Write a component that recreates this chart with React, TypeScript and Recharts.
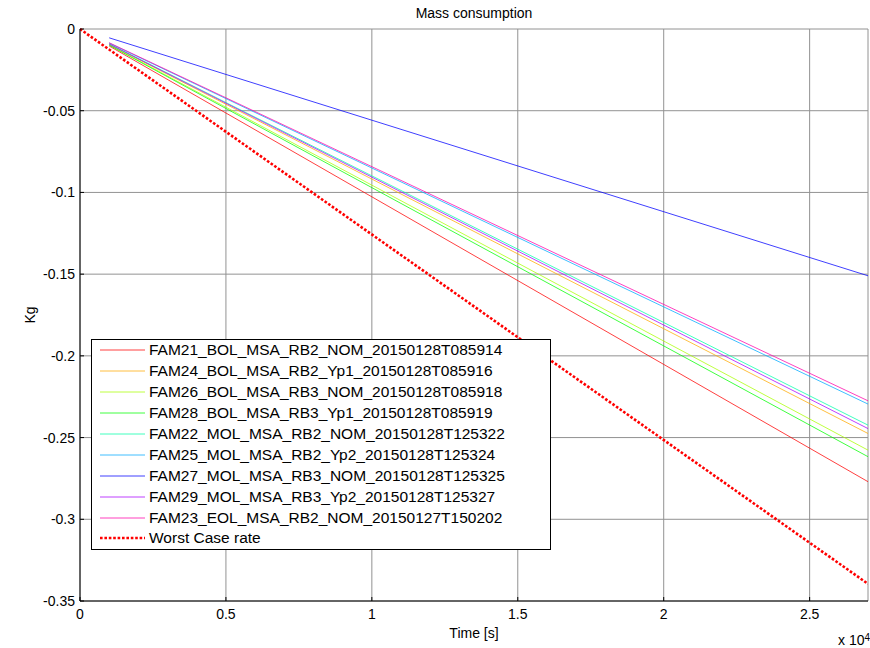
import { LineChart, Line, XAxis, YAxis, CartesianGrid, Legend } from 'recharts'

const font = 'Arial, "Liberation Sans", Helvetica, sans-serif'

// run names, in legend order
const runNames = [
  'FAM21_BOL_MSA_RB2_NOM_20150128T085914',
  'FAM24_BOL_MSA_RB2_Yp1_20150128T085916',
  'FAM26_BOL_MSA_RB3_NOM_20150128T085918',
  'FAM28_BOL_MSA_RB3_Yp1_20150128T085919',
  'FAM22_MOL_MSA_RB2_NOM_20150128T125322',
  'FAM25_MOL_MSA_RB2_Yp2_20150128T125324',
  'FAM27_MOL_MSA_RB3_NOM_20150128T125325',
  'FAM29_MOL_MSA_RB3_Yp2_20150128T125327',
  'FAM23_EOL_MSA_RB2_NOM_20150127T150202',
]
const runColors = ['#ff0000', '#ffaa00', '#aaff00', '#00ff00', '#00ffaa', '#00aaff', '#0000ff', '#aa00ff', '#ff00aa']

// time [s] of the run samples, and mass [kg] per run
const runTime = [1000, 27000]
const fam21 = [-0.0104, -0.277]
const fam24 = [-0.0094, -0.2475]
const fam26 = [-0.0097, -0.2577]
const fam28 = [-0.0099, -0.2617]
const fam22 = [-0.0091, -0.2424]
const fam25 = [-0.0086, -0.2295]
const fam27 = [-0.0054, -0.151]
const fam29 = [-0.0092, -0.2445]
const fam23 = [-0.0084, -0.2275]
const runValues = [fam21, fam24, fam26, fam28, fam22, fam25, fam27, fam29, fam23]

const worstName = 'Worst Case rate'
const worstTime = [0, 27000]
const worstCase = [0, -0.3395]

const xTicks = [0, 5000, 10000, 15000, 20000, 25000]
const yTicks = [0, -0.05, -0.1, -0.15, -0.2, -0.25, -0.3, -0.35]

const toPoints = (t: number[], v: number[]) => t.map((x, i) => ({ t: x, v: v[i] }))

const legendItems = [
  ...runNames.map((name, i) => ({ name, color: runColors[i], width: 1, dash: undefined as string | undefined })),
  { name: worstName, color: '#ff0000', width: 2.6, dash: '2.6 1.8' },
]

function LegendBox() {
  return (
    <div
      style={{
        boxSizing: 'border-box',
        width: 460,
        background: '#fff',
        border: '1px solid #000',
        padding: '0 8px',
        fontFamily: font,
        fontSize: 15.5,
        color: '#000',
      }}
    >
      {legendItems.map(e => (
        <div key={e.name} style={{ display: 'flex', alignItems: 'center', height: 20.9 }}>
          <svg width={45} height={6} style={{ flex: 'none' }}>
            <line
              x1={0}
              y1={3}
              x2={45}
              y2={3}
              stroke={e.color}
              strokeOpacity={e.dash ? 1 : 0.75}
              strokeWidth={e.width}
              strokeDasharray={e.dash}
            />
          </svg>
          <span style={{ marginLeft: 4, whiteSpace: 'nowrap' }}>{e.name}</span>
        </div>
      ))}
    </div>
  )
}

export default function App() {
  return (
    <div style={{ position: 'absolute', left: 0, top: 0, width: 870, height: 648, background: '#fff', fontFamily: font }}>
      <LineChart width={870} height={648} margin={{ top: 29, right: 2, bottom: 17, left: 0 }}>
        <CartesianGrid stroke="#929292" strokeWidth={1} />
        <XAxis
          dataKey="t"
          type="number"
          domain={[0, 27000]}
          ticks={xTicks}
          allowDataOverflow
          height={30}
          tickSize={-4}
          tickMargin={12}
          tickLine={{ stroke: '#000' }}
          axisLine={{ stroke: '#000' }}
          tick={{ fill: '#000', fontSize: 14, fontFamily: font }}
          tickFormatter={(v: number) => String(v / 10000)}
        />
        <XAxis
          xAxisId="top"
          orientation="top"
          dataKey="t"
          type="number"
          domain={[0, 27000]}
          ticks={xTicks}
          height={0}
          tickSize={-4}
          axisLine={false}
          tickLine={{ stroke: '#000' }}
          tick={() => <g />}
        />
        <YAxis
          type="number"
          domain={[-0.35, 0]}
          ticks={yTicks}
          width={80}
          tickSize={-4}
          tickMargin={9}
          tickLine={{ stroke: '#000' }}
          axisLine={{ stroke: '#000' }}
          tick={{ fill: '#000', fontSize: 14, fontFamily: font }}
          tickFormatter={(v: number) => String(v)}
        />
        {runValues.map((vals, i) => (
          <Line
            key={runNames[i]}
            data={toPoints(runTime, vals)}
            dataKey="v"
            name={runNames[i]}
            stroke={runColors[i]}
            strokeOpacity={0.75}
            strokeWidth={1}
            dot={false}
            isAnimationActive={false}
          />
        ))}
        <Line
          data={toPoints(worstTime, worstCase)}
          dataKey="v"
          name={worstName}
          stroke="#ff0000"
          strokeWidth={2.6}
          strokeDasharray="2.6 1.8"
          dot={false}
          isAnimationActive={false}
        />
        <Legend
          layout="vertical"
          align="center"
          verticalAlign="middle"
          content={LegendBox}
          wrapperStyle={{ left: 91, top: 339, width: 'auto', height: 'auto' }}
        />
      </LineChart>
      <div style={{ position: 'absolute', left: 80, width: 788, top: 5, textAlign: 'center', fontSize: 14, lineHeight: '16px' }}>
        Mass consumption
      </div>
      <div
        style={{
          position: 'absolute',
          left: 30,
          top: 315,
          transform: 'translate(-50%, -50%) rotate(-90deg)',
          fontSize: 14,
          lineHeight: '16px',
        }}
      >
        Kg
      </div>
      <div style={{ position: 'absolute', left: 80, width: 788, top: 625, textAlign: 'center', fontSize: 14, lineHeight: '16px' }}>
        Time [s]
      </div>
      <div style={{ position: 'absolute', left: 838, top: 632, fontSize: 14, lineHeight: '16px', whiteSpace: 'nowrap' }}>
        x 10<sup style={{ fontSize: 10, position: 'relative', top: -2, verticalAlign: 'top' }}>4</sup>
      </div>
    </div>
  )
}
